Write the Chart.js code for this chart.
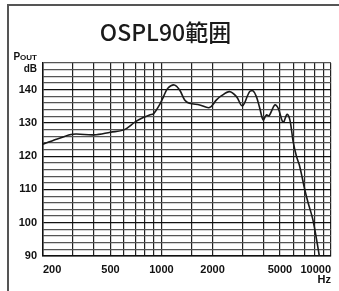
<!DOCTYPE html>
<html lang="ja">
<head>
    <meta charset="UTF-8">
    <title>OSPL90範囲</title>
    <script src="https://cdn.jsdelivr.net/npm/chart.js"></script>
    <style>
        html, body { margin: 0; padding: 0; background: #fff; overflow: hidden; }
        .frame {
            position: absolute; left: 7px; top: 4px; width: 400px; height: 400px;
            border-left: 2px solid #555; border-top: 2px solid #555;
        }
        .wrap { position: absolute; left: 0; top: 0; width: 339px; height: 291px; }
    </style>
</head>
<body>
    <div class="frame"></div>
    <div class="wrap"><canvas id="chart"></canvas></div>

    <script>
        // Response curve
        const freqs = [200, 250, 300, 400, 500, 600, 700, 780, 850, 900, 975, 1030, 1090, 1190, 1280, 1370, 1460, 1680, 1920, 2110, 2250, 2520, 2770, 3000, 3310, 3470, 3630, 3800, 3980, 4160, 4310, 4660, 4880, 5220, 5510, 5720, 5980, 6260, 6500, 6800, 7000, 7300, 7850, 8600];
        const spl = [123.6, 125.4, 126.6, 126.4, 127.2, 127.9, 130.3, 131.6, 132.4, 132.8, 135.5, 138.0, 140.4, 141.4, 139.9, 136.9, 135.9, 135.4, 134.6, 136.9, 138.1, 139.4, 137.9, 135.1, 139.4, 139.6, 137.9, 134.4, 130.9, 132.4, 132.1, 135.4, 134.4, 130.2, 132.6, 130.9, 124.4, 119.9, 117.4, 113.0, 110.0, 106.3, 100.5, 89.0];

        // Axes
        const xGrid = [200, 300, 400, 500, 600, 700, 800, 900, 1000, 1500, 2000, 3000, 4000, 5000, 6000, 7000, 8000, 9000, 10000];
        const xLabels = [200, 500, 1000, 2000, 5000, 10000];
        const yGrid = [90, 92, 94, 96, 98, 100, 102, 104, 106, 108, 110, 112, 114, 116, 118, 120, 122, 124, 126, 128, 130, 132, 134, 136, 138, 140, 142, 144, 146, 148];
        const yLabels = [90, 100, 110, 120, 130, 140];

        const tickFont = { family: "'Liberation Sans Narrow', 'Liberation Sans', Arial, sans-serif", size: 11, weight: 'bold' };

        // Axis unit captions
        const unitLabels = {
            id: 'unitLabels',
            afterDraw(chart) {
                const ctx = chart.ctx;
                const area = chart.chartArea;
                ctx.save();
                ctx.fillStyle = '#111';
                ctx.textBaseline = 'alphabetic';
                // POUT with small caps
                ctx.font = "bold 8px 'Liberation Sans Narrow', 'Liberation Sans', Arial, sans-serif";
                ctx.textAlign = 'right';
                const rx = area.left - 6;
                ctx.fillText('OUT', rx, area.top - 3);
                const w = ctx.measureText('OUT').width;
                ctx.font = "bold 10px 'Liberation Sans Narrow', 'Liberation Sans', Arial, sans-serif";
                ctx.fillText('P', rx - w, area.top - 3);
                ctx.fillText('dB', rx, area.top + 9);
                ctx.font = "bold 11px 'Liberation Sans Narrow', 'Liberation Sans', Arial, sans-serif";
                ctx.fillText('Hz', area.right, area.bottom + 27);
                ctx.restore();
            }
        };

        new Chart(document.getElementById('chart'), {
            type: 'line',
            data: {
                datasets: [{
                    data: freqs.map((f, i) => ({ x: f, y: spl[i] })),
                    borderColor: '#1a1a1a',
                    borderWidth: 1.6,
                    pointRadius: 0,
                    tension: 0.35,
                    fill: false
                }]
            },
            options: {
                responsive: true,
                maintainAspectRatio: false,
                animation: false,
                layout: { padding: { left: 0, right: 8, top: 0, bottom: 0 } },
                plugins: {
                    legend: { display: false },
                    tooltip: { enabled: false },
                    title: {
                        display: true,
                        text: 'OSPL90範囲',
                        color: '#1a1a1a',
                        font: { family: "'Noto Sans CJK JP', 'Noto Sans', sans-serif", size: 23, weight: '500', lineHeight: 1.2 },
                        padding: { top: 18, bottom: 17.4 }
                    }
                },
                scales: {
                    x: {
                        type: 'logarithmic',
                        min: 200,
                        max: 10000,
                        afterBuildTicks: s => { s.ticks = xGrid.map(v => ({ value: v })); },
                        afterFit: s => { s.height = 35; },
                        border: { color: '#111', width: 1.5 },
                        grid: { color: '#222', lineWidth: 1.2, drawTicks: false },
                        ticks: {
                            autoSkip: false,
                            maxRotation: 0,
                            align: 'inner',
                            padding: 7,
                            color: '#111',
                            font: tickFont,
                            callback: v => xLabels.includes(v) ? String(v) : ''
                        }
                    },
                    y: {
                        min: 90,
                        max: 148,
                        afterBuildTicks: s => { s.ticks = yGrid.map(v => ({ value: v })); },
                        afterFit: s => { s.width = 43; },
                        border: { color: '#111', width: 1.5 },
                        grid: {
                            color: c => (c.tick && c.tick.value % 10 === 0) ? '#111' : '#555',
                            lineWidth: 1.2,
                            drawTicks: false
                        },
                        ticks: {
                            autoSkip: false,
                            padding: 6,
                            color: '#111',
                            font: tickFont,
                            callback: v => yLabels.includes(v) ? String(v) : ''
                        }
                    }
                }
            },
            plugins: [unitLabels]
        });
    </script>
</body>
</html>
